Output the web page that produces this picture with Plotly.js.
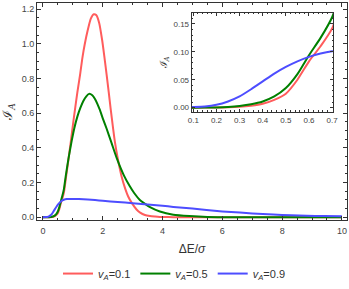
<!DOCTYPE html>
<html>
<head>
<meta charset="utf-8">
<script src="https://cdn.plot.ly/plotly-3.0.1.min.js"></script>
<style>html,body{margin:0;padding:0;background:#fff;}#chart{width:349px;height:289px;}</style>
</head>
<body>
<div id="chart"></div>
<script>
// Data
var xRed = [0, 0.1, 0.2, 0.25, 0.3, 0.35, 0.4, 0.45, 0.5, 0.55, 0.6, 0.65, 0.7, 0.77, 0.85, 0.93, 1.0, 1.07, 1.15, 1.24, 1.32, 1.40, 1.50, 1.60, 1.70, 1.78, 1.88, 1.98, 2.05, 2.13, 2.20, 2.26, 2.34, 2.41, 2.50, 2.63, 2.75, 2.85, 2.97, 3.13, 3.25, 3.41, 3.58, 3.75, 3.91, 4.2, 4.5, 5, 6, 7, 8, 9, 10];
var yRed = [0, 0, 0.0002, 0.0006, 0.0015, 0.0035, 0.007, 0.014, 0.025, 0.05, 0.083, 0.11, 0.142, 0.23, 0.33, 0.435, 0.53, 0.62, 0.72, 0.82, 0.92, 1.00, 1.08, 1.145, 1.17, 1.165, 1.12, 1.02, 0.93, 0.82, 0.72, 0.63, 0.52, 0.43, 0.34, 0.235, 0.165, 0.12, 0.083, 0.045, 0.027, 0.013, 0.007, 0.004, 0.002, 0.001, 0, 0, 0, 0, 0, 0, 0];

var xGreen = [0, 0.1, 0.2, 0.25, 0.3, 0.35, 0.4, 0.45, 0.5, 0.55, 0.6, 0.65, 0.7, 0.76, 0.85, 0.96, 1.05, 1.15, 1.25, 1.35, 1.45, 1.54, 1.65, 1.74, 1.9, 2.0, 2.13, 2.29, 2.48, 2.71, 2.9, 3.05, 3.24, 3.41, 3.58, 3.91, 4.36, 4.9, 5.5, 6.5, 8, 10];
var yGreen = [0, 0, 0.0004, 0.0012, 0.003, 0.006, 0.011, 0.02, 0.035, 0.06, 0.094, 0.125, 0.162, 0.236, 0.335, 0.44, 0.515, 0.58, 0.63, 0.67, 0.697, 0.711, 0.703, 0.682, 0.62, 0.57, 0.51, 0.43, 0.335, 0.24, 0.18, 0.14, 0.10, 0.078, 0.058, 0.033, 0.015, 0.007, 0.002, 0.0005, 0, 0];

var xBlue = [0, 0.1, 0.15, 0.2, 0.25, 0.3, 0.35, 0.4, 0.45, 0.5, 0.55, 0.6, 0.65, 0.7, 0.8, 0.9, 1.0, 1.2, 1.5, 1.74, 2.0, 2.5, 3.0, 3.4, 4.0, 4.36, 5.0, 5.47, 6.0, 6.59, 7.0, 7.7, 8.3, 8.82, 9.4, 10];
var yBlue = [0, 0.001, 0.002, 0.005, 0.011, 0.02, 0.033, 0.047, 0.061, 0.073, 0.083, 0.091, 0.097, 0.101, 0.105, 0.106, 0.106, 0.105, 0.102, 0.099, 0.095, 0.088, 0.081, 0.075, 0.066, 0.060, 0.050, 0.042, 0.034, 0.027, 0.022, 0.016, 0.012, 0.009, 0.007, 0.006];

var names = ['<i>v</i><sub><i>A</i></sub>=0.1', '<i>v</i><sub><i>A</i></sub>=0.5', '<i>v</i><sub><i>A</i></sub>=0.9'];
var colors = ['#ff5c5c', '#008000', '#4d4dff'];

var xTickMain = [0, 2, 4, 6, 8, 10];
var yTickMain = [0.0, 0.2, 0.4, 0.6, 0.8, 1.0, 1.2];
var yTickMainText = ['0.0', '0.2', '0.4', '0.6', '0.8', '1.0', '1.2'];
var xTickInset = [0.1, 0.2, 0.3, 0.4, 0.5, 0.6, 0.7];
var yTickInset = [0, 0.05, 0.1, 0.15];
var yTickInsetText = ['0.00', '0.05', '0.10', '0.15'];

var series = [[xRed, yRed], [xGreen, yGreen], [xBlue, yBlue]];
var traces = [];
series.forEach(function (s, i) {
  traces.push({x: s[0], y: s[1], type: 'scatter', mode: 'lines', name: names[i],
    line: {color: colors[i], width: 2, shape: 'spline', smoothing: 0.6}, xaxis: 'x', yaxis: 'y', showlegend: true});
});
series.forEach(function (s, i) {
  traces.push({x: s[0], y: s[1], type: 'scatter', mode: 'lines', name: names[i],
    line: {color: colors[i], width: 2, shape: 'spline', smoothing: 0.6}, xaxis: 'x2', yaxis: 'y2', showlegend: false});
});

var frameColor = '#333';
var tickFont = {family: 'Liberation Sans, Arial, sans-serif', size: 9, color: '#444'};
var insetFont = {family: 'Liberation Sans, Arial, sans-serif', size: 8, color: '#444'};

var layout = {
  width: 349, height: 289,
  margin: {l: 37, r: 2, t: 3, b: 69, autoexpand: false},
  paper_bgcolor: '#fff', plot_bgcolor: '#fff',
  showlegend: true,
  legend: {orientation: 'h', x: 0.4435, xanchor: 'center', y: -0.18, yanchor: 'top',
    font: {family: 'Liberation Sans, Arial, sans-serif', size: 11, color: '#333'}, itemwidth: 30, tracegroupgap: 0},
  xaxis: {domain: [0, 1], range: [-0.2, 10.17], tickvals: xTickMain, ticks: 'inside', ticklen: 4, tickcolor: frameColor,
    showline: true, linecolor: frameColor, linewidth: 1, mirror: 'allticks', showgrid: false, zeroline: false,
    tickfont: tickFont, ticklabelstandoff: 2, minor: {dtick: 0.5, ticks: 'inside', ticklen: 2, tickcolor: frameColor, showgrid: false},
    title: {text: 'ΔE/<i>σ</i>', font: {family: 'Liberation Sans, Arial, sans-serif', size: 12, color: '#333'}, standoff: 9}},
  yaxis: {domain: [0, 1], range: [-0.0156, 1.2346], tickvals: yTickMain, ticktext: yTickMainText, ticks: 'inside', ticklen: 4, tickcolor: frameColor,
    showline: true, linecolor: frameColor, linewidth: 1, mirror: 'allticks', showgrid: false, zeroline: false,
    tickfont: tickFont, minor: {dtick: 0.05, ticks: 'inside', ticklen: 2, tickcolor: frameColor, showgrid: false},
    title: {text: 'ℐ<sub><i>A</i></sub>', font: {family: 'DejaVu Serif, serif', size: 13, color: '#333'}, standoff: 6}},
  xaxis2: {domain: [0.499, 0.955], anchor: 'y2', range: [0.093, 0.704], tickvals: xTickInset, ticks: 'inside', ticklen: 3, tickcolor: frameColor,
    showline: true, linecolor: frameColor, linewidth: 1, mirror: 'allticks', showgrid: false, zeroline: false,
    tickfont: insetFont, minor: {dtick: 0.02, ticks: 'inside', ticklen: 1.5, tickcolor: frameColor, showgrid: false}},
  yaxis2: {domain: [0.498, 0.955], anchor: 'x2', range: [-0.0077, 0.170], tickvals: yTickInset, ticktext: yTickInsetText, ticks: 'inside', ticklen: 3, tickcolor: frameColor,
    showline: true, linecolor: frameColor, linewidth: 1, mirror: 'allticks', showgrid: false, zeroline: false,
    tickfont: insetFont, minor: {dtick: 0.01, ticks: 'inside', ticklen: 1.5, tickcolor: frameColor, showgrid: false},
    title: {text: 'ℐ<sub><i>A</i></sub>', font: {family: 'DejaVu Serif, serif', size: 10, color: '#333'}, standoff: 4}}
};

Plotly.newPlot('chart', traces, layout, {displayModeBar: false, staticPlot: true});
</script>
</body>
</html>
